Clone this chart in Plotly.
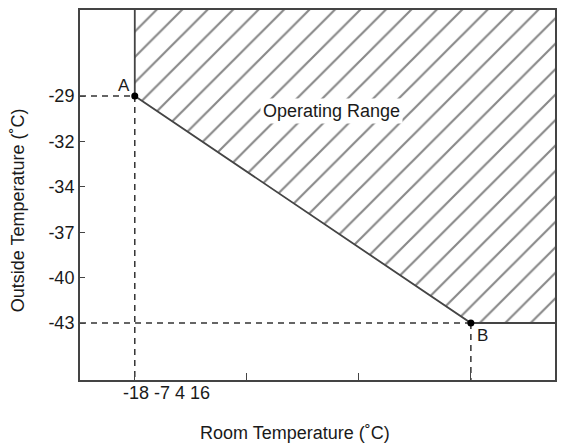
import plotly.graph_objects as go

# ---- data ----
room_ticks = [-18, -7, 4, 16]                 # x tick labels (evenly spaced)
outside_ticks = [-29, -32, -34, -37, -40, -43]  # y tick labels (evenly spaced)
point_names = ["A", "B"]
point_room = [-18, 16]
point_outside = [-29, -43]

def xp(v):
    return room_ticks.index(v)

def yp(v):
    return -outside_ticks.index(v)

W, H = 562, 448
ML, MR, MT, MB = 80, 5, 10, 68
XR = [-0.489, 3.751]
YR = [-6.255, 1.894]

FONT = "Liberation Sans, Arial, sans-serif"
TXT = "#1a1a1a"
LINE = "#444"

ax, ay = xp(point_room[0]), yp(point_outside[0])
bx, by = xp(point_room[1]), yp(point_outside[1])

fig = go.Figure()

# hatched operating range
fig.add_trace(go.Scatter(
    x=[ax, ax, bx, XR[1], XR[1], ax],
    y=[YR[1], ay, by, by, YR[1], YR[1]],
    mode="lines", line=dict(width=0), fill="toself",
    fillcolor="rgba(0,0,0,0)",
    fillpattern=dict(shape="/", size=18, solidity=0.12, fgcolor="#111", bgcolor="white"),
    hoverinfo="skip", showlegend=False))

# region boundary
fig.add_trace(go.Scatter(
    x=[ax, ax, bx, XR[1]], y=[YR[1], ay, by, by],
    mode="lines", line=dict(color=LINE, width=1.8),
    hoverinfo="skip", showlegend=False))

# dashed guide lines
for px, py in [(ax, ay), (bx, by)]:
    fig.add_trace(go.Scatter(x=[XR[0], px], y=[py, py], mode="lines",
                             line=dict(color="#333", width=1.5, dash="6px,5px"),
                             hoverinfo="skip", showlegend=False))
    fig.add_trace(go.Scatter(x=[px, px], y=[py, YR[0]], mode="lines",
                             line=dict(color="#333", width=1.5, dash="6px,5px"),
                             hoverinfo="skip", showlegend=False))

# points
fig.add_trace(go.Scatter(
    x=[xp(v) for v in point_room], y=[yp(v) for v in point_outside],
    mode="markers", marker=dict(color="black", size=7),
    hoverinfo="skip", showlegend=False))

annotations = [
    dict(x=ax, y=ay, text=point_names[0], showarrow=False, xshift=-11, yshift=11,
         font=dict(size=17, color=TXT, family=FONT)),
    dict(x=bx, y=by, text=point_names[1], showarrow=False, xshift=12, yshift=-12,
         font=dict(size=17, color=TXT, family=FONT)),
    dict(x=0.530, y=0.762, xref="paper", yref="paper", text="Operating Range",
         showarrow=False, bgcolor="white", borderpad=2,
         font=dict(size=18, color=TXT, family=FONT)),
    dict(x=ax, y=0, yref="paper", text=" ".join(str(v) for v in room_ticks),
         showarrow=False, xanchor="left", yanchor="top", xshift=-14, yshift=-1,
         font=dict(size=18, color=TXT, family=FONT)),
    dict(x=0.453, y=0, xref="paper", yref="paper", text="Room Temperature (˚C)",
         showarrow=False, yanchor="middle", yshift=-53,
         font=dict(size=18, color=TXT, family=FONT)),
    dict(x=0, y=0.459, xref="paper", yref="paper", text="Outside Temperature (˚C)",
         showarrow=False, textangle=-90, xanchor="center", xshift=-62,
         font=dict(size=18, color=TXT, family=FONT)),
]

fig.update_layout(
    width=W, height=H, margin=dict(l=ML, r=MR, t=MT, b=MB),
    paper_bgcolor="white", plot_bgcolor="white",
    annotations=annotations, showlegend=False,
    xaxis=dict(range=XR, tickvals=list(range(len(room_ticks))),
               ticktext=["" for _ in room_ticks], ticks="inside", ticklen=7,
               tickcolor=LINE, tickwidth=1.2, showgrid=False, zeroline=False,
               showline=True, linecolor=LINE, linewidth=2, mirror=True),
    yaxis=dict(range=YR, tickvals=[-i for i in range(len(outside_ticks))],
               ticktext=[str(v) for v in outside_ticks], ticks="inside", ticklen=5,
               tickcolor=LINE, tickwidth=1.2, showgrid=False, zeroline=False,
               showline=True, linecolor=LINE, linewidth=2, mirror=True,
               tickfont=dict(size=18, color=TXT, family=FONT)),
)

fig.write_html("out.html")
